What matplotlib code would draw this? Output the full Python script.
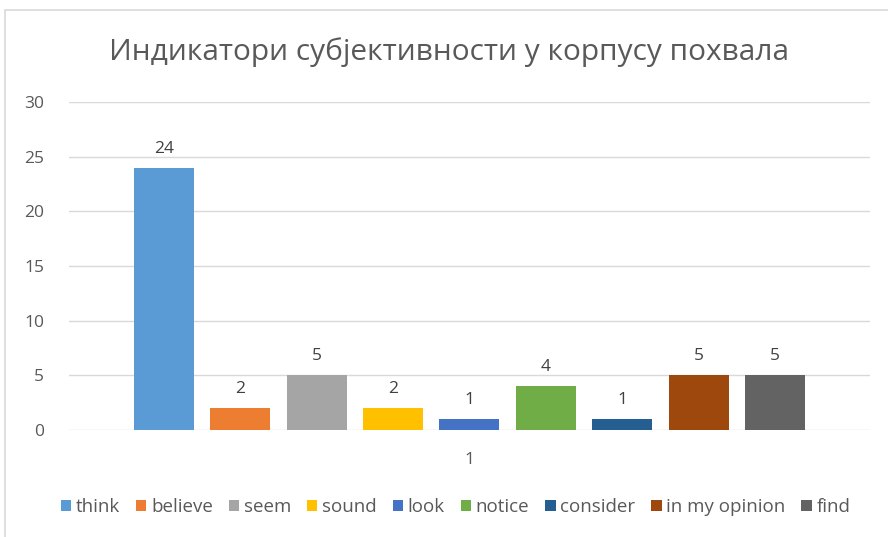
import matplotlib.pyplot as plt
from matplotlib.patches import Rectangle

# подаци
labels = ['think', 'believe', 'seem', 'sound', 'look', 'notice', 'consider', 'in my opinion', 'find']
values = [24, 2, 5, 2, 1, 4, 1, 5, 5]
colors = ['#5b9bd5', '#ed7d31', '#a5a5a5', '#ffc000', '#4472c4', '#70ad47', '#255e91', '#9e480e', '#636363']
category = ['1']
yticks = [0, 5, 10, 15, 20, 25, 30]

plt.rcParams['font.family'] = ['Open Sans', 'DejaVu Sans']

fig = plt.figure(figsize=(8.88, 5.37), dpi=100)
ax = fig.add_axes([0.0777, 0.1993, 0.902, 0.6106])

# оквир графикона
fig.patches.append(Rectangle((5 / 888, -0.1), 1.2, 1 - 10 / 537 + 0.1, transform=fig.transFigure,
                             fill=False, edgecolor='#d9d9d9', linewidth=1.2))

step = 0.0954
width = 0.0749
n = len(values)
for i, (lab, v, c) in enumerate(zip(labels, values, colors)):
    x = (i - (n - 1) / 2) * step
    ax.bar(x, v, width=width, color=c, label=lab, zorder=3)
    ax.annotate(str(v), (x, v), xytext=(0, 8), textcoords='offset points',
                ha='center', va='bottom', fontsize=12.5, color='#404040')

ax.set_xlim(-0.5, 0.5)
ax.set_ylim(0, 30)
ax.set_yticks(yticks)
ax.set_xticks([0])
ax.set_xticklabels(category)
ax.tick_params(axis='both', length=0, labelsize=12.5, labelcolor='#595959')
ax.tick_params(axis='x', pad=16)
ax.tick_params(axis='y', pad=18)
ax.grid(axis='y', color='#d9d9d9', linewidth=1, zorder=0)
for s in ax.spines.values():
    s.set_visible(False)

fig.text(0.506, 1 - 52 / 537, 'Индикатори субјективности у корпусу похвала',
         ha='center', va='center', fontsize=21.5, color='#595959')

fig.legend(loc='center', bbox_to_anchor=(0.513, 1 - 507 / 537), ncol=9, frameon=False,
           fontsize=13.5, handlelength=0.55, handleheight=0.55, handletextpad=0.25,
           columnspacing=0.85, labelcolor='#595959')

fig.savefig('out.png', dpi=100)
